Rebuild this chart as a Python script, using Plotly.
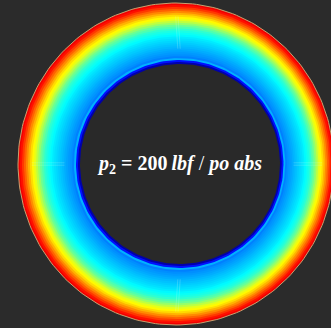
import numpy as np
import plotly.graph_objects as go
from plotly.colors import sample_colorscale

# ---- data: radial colour profile of the ring (innermost band first) ----
band_values = [0.03, 0.14, 0.30, 0.25, 0.265, 0.275, 0.285, 0.295, 0.305, 0.315,
               0.325, 0.335, 0.345, 0.355, 0.37, 0.385, 0.40, 0.42, 0.45, 0.48,
               0.52, 0.56, 0.60, 0.63, 0.66, 0.70, 0.74, 0.78, 0.82, 0.86, 0.89]
label_text = "<b><i>p</i><sub>2</sub> = 200\u2009<i>lbf</i></b> / <b><i>po abs</i></b>"

# ---- styling / geometry ----
W, H = 331, 328
BG = "#2b2b2b"
INNER_BG = "#292929"
inner_c = (180.0, 164.0)
inner_r = (100.0, 100.0)
outer_c = (176.0, 164.0)
outer_r = (158.0, 161.0)

jet = [[0.0, "rgb(0,0,143)"], [0.125, "rgb(0,0,255)"], [0.375, "rgb(0,255,255)"],
       [0.625, "rgb(255,255,0)"], [0.875, "rgb(255,0,0)"], [1.0, "rgb(128,0,0)"]]
colors = sample_colorscale(jet, band_values)

theta = np.linspace(0, 2 * np.pi, 241)


def geom(t):
    cx = inner_c[0] + (outer_c[0] - inner_c[0]) * t
    cy = inner_c[1] + (outer_c[1] - inner_c[1]) * t
    rx = inner_r[0] + (outer_r[0] - inner_r[0]) * t
    ry = inner_r[1] + (outer_r[1] - inner_r[1]) * t
    return cx, cy, rx, ry


def ellipse(t):
    cx, cy, rx, ry = geom(t)
    return cx + rx * np.cos(theta), cy + ry * np.sin(theta)


def point(t, ang):
    cx, cy, rx, ry = geom(t)
    return cx + rx * np.cos(ang), cy + ry * np.sin(ang)


fig = go.Figure()
n = len(band_values)
for i in range(n - 1, -1, -1):
    x, y = ellipse((i + 1) / n)
    fig.add_trace(go.Scatter(x=x, y=y, mode="lines", fill="toself",
                             fillcolor=colors[i], line=dict(width=0),
                             hoverinfo="skip", showlegend=False))

# inner dark disc
x, y = ellipse(0.0)
fig.add_trace(go.Scatter(x=x, y=y, mode="lines", fill="toself", fillcolor=INNER_BG,
                         line=dict(width=0), hoverinfo="skip", showlegend=False))

# outer thin outline
x, y = ellipse(1.0)
fig.add_trace(go.Scatter(x=x, y=y, mode="lines", line=dict(width=1, color="rgb(200,160,110)"),
                         hoverinfo="skip", showlegend=False))

# faint cross-hair marks in the ring
for ang in [0, np.pi / 2, np.pi, 3 * np.pi / 2]:
    for off in (-1.2, 1.2):
        x0, y0 = point(0.25, ang)
        x1, y1 = point(0.78, ang)
        if abs(np.cos(ang)) > 0.5:
            xs, ys = [x0, x1], [y0 + off, y1 + off]
        else:
            xs, ys = [x0 + off, x1 + off], [y0, y1]
        fig.add_trace(go.Scatter(x=xs, y=ys, mode="lines",
                                 line=dict(width=1, color="rgba(200,255,240,0.22)"),
                                 hoverinfo="skip", showlegend=False))

fig.add_annotation(x=inner_c[0] - 1, y=inner_c[1], xref="x", yref="y", text=label_text,
                   showarrow=False, font=dict(family="Liberation Serif", size=20, color="white"))

fig.update_layout(width=W, height=H, margin=dict(l=0, r=0, t=0, b=0),
                  paper_bgcolor=BG, plot_bgcolor=BG,
                  xaxis=dict(range=[0, W], visible=False, fixedrange=True),
                  yaxis=dict(range=[H, 0], visible=False, fixedrange=True))

fig.write_html("out.html", config={"displayModeBar": False},
               post_script="document.body.style.margin='0';document.body.style.overflow='hidden';")
